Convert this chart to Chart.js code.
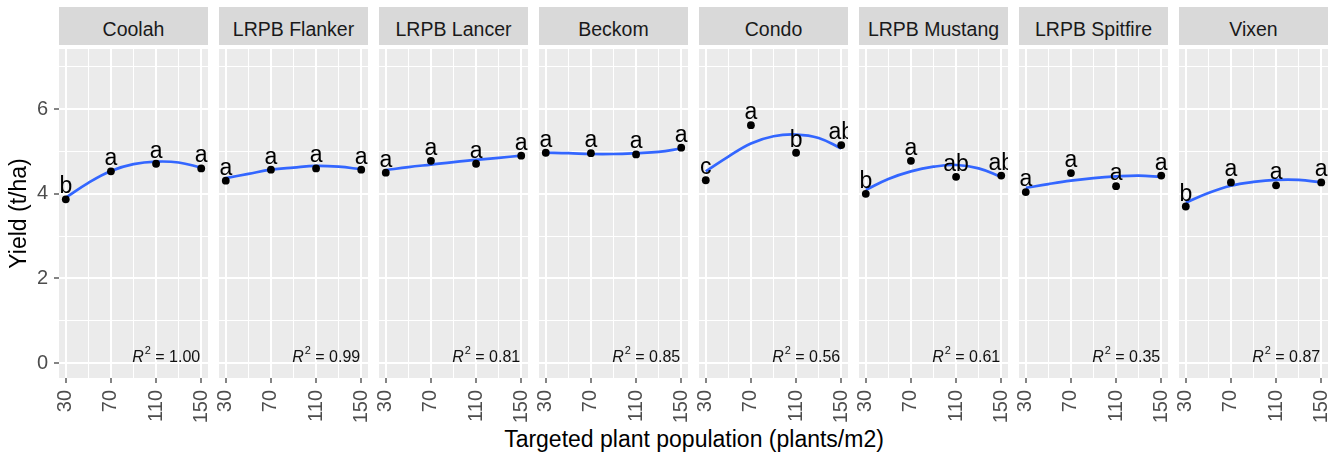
<!DOCTYPE html>
<html><head><meta charset="utf-8">
<script src="https://cdn.jsdelivr.net/npm/chart.js@4.4.1/dist/chart.umd.min.js"></script>
<style>
html,body{margin:0;padding:0;background:#fff;}
#wrap{position:relative;width:1343px;height:458px;overflow:hidden;font-family:'Liberation Sans',Arial,sans-serif;}
.strip{position:absolute;top:7px;height:38px;width:149px;background:#D9D9D9;color:#1A1A1A;font-size:19.5px;line-height:44px;text-align:center;white-space:nowrap;overflow:hidden;}
canvas{position:absolute;top:45px;}
#xtitle{position:absolute;left:59px;width:1270px;top:428px;line-height:23px;font-size:23px;text-align:center;color:#000;white-space:nowrap;}
</style></head><body><div id="wrap"><div id="xtitle">Targeted plant population (plants/m2)</div></div>
<script>
// ---- data ----
const cultivars = ['Coolah','LRPB Flanker','LRPB Lancer','Beckom','Condo','LRPB Mustang','LRPB Spitfire','Vixen'];
const populations = [30, 70, 110, 150];
const fitPopulations = [30, 50, 70, 90, 110, 130, 150];

const yieldCoolah   = [3.87, 4.53, 4.71, 4.60];
const yieldFlanker  = [4.31, 4.57, 4.60, 4.57];
const yieldLancer   = [4.50, 4.78, 4.71, 4.90];
const yieldBeckom   = [4.97, 4.96, 4.93, 5.09];
const yieldCondo    = [4.32, 5.62, 4.97, 5.15];
const yieldMustang  = [4.00, 4.78, 4.40, 4.43];
const yieldSpitfire = [4.04, 4.49, 4.18, 4.43];
const yieldVixen    = [3.70, 4.27, 4.20, 4.27];

const lettersCoolah   = ['b','a','a','a'];
const lettersFlanker  = ['a','a','a','a'];
const lettersLancer   = ['a','a','a','a'];
const lettersBeckom   = ['a','a','a','a'];
const lettersCondo    = ['c','a','b','ab'];
const lettersMustang  = ['b','a','ab','ab'];
const lettersSpitfire = ['a','a','a','a'];
const lettersVixen    = ['b','a','a','a'];

const fitCoolah   = [3.91, 4.26, 4.54, 4.70, 4.76, 4.74, 4.62];
const fitFlanker  = [4.37, 4.47, 4.57, 4.62, 4.66, 4.64, 4.58];
const fitLancer   = [4.56, 4.63, 4.69, 4.75, 4.80, 4.85, 4.90];
const fitBeckom   = [4.97, 4.96, 4.94, 4.94, 4.96, 4.99, 5.07];
const fitCondo    = [4.53, 4.88, 5.19, 5.36, 5.40, 5.32, 5.07];
const fitMustang  = [4.09, 4.35, 4.53, 4.64, 4.68, 4.60, 4.40];
const fitSpitfire = [4.14, 4.23, 4.31, 4.37, 4.41, 4.43, 4.40];
const fitVixen    = [3.79, 4.02, 4.19, 4.28, 4.33, 4.33, 4.27];

const rSquared = [1.00, 0.99, 0.81, 0.85, 0.56, 0.61, 0.35, 0.87];

const xTickLabels = [30, 70, 110, 150];
const xMinorTicks = [50, 90, 130];
const yTickLabels = [0, 2, 4, 6];
const yMinorTicks = [1, 3, 5, 7];

const yields  = [yieldCoolah, yieldFlanker, yieldLancer, yieldBeckom, yieldCondo, yieldMustang, yieldSpitfire, yieldVixen];
const letters = [lettersCoolah, lettersFlanker, lettersLancer, lettersBeckom, lettersCondo, lettersMustang, lettersSpitfire, lettersVixen];
const fits    = [fitCoolah, fitFlanker, fitLancer, fitBeckom, fitCondo, fitMustang, fitSpitfire, fitVixen];

// ---- layout ----
const FONT = "'Liberation Sans', Arial, sans-serif";
const PANEL_LEFT0 = 59, PANEL_STEP = 160, PANEL_W = 149, PANEL_H = 333, AXIS_H = 80, EXTRA = 10, YAXIS_W = 59;
const wrap = document.getElementById('wrap');

function makePlugins(i) {
  const bg = {
    id: 'panelBg' + i,
    beforeDraw(chart) {
      const {ctx, chartArea: a} = chart;
      ctx.save();
      ctx.fillStyle = '#EBEBEB';
      ctx.fillRect(a.left, a.top, a.right - a.left, a.bottom - a.top);
      ctx.restore();
    }
  };
  const lab = {
    id: 'panelLabels' + i,
    afterDatasetsDraw(chart) {
      const {ctx, chartArea: a, scales: {x, y}} = chart;
      ctx.save();
      ctx.beginPath();
      ctx.rect(a.left, a.top, a.right - a.left, a.bottom - a.top);
      ctx.clip();
      ctx.fillStyle = '#000';
      ctx.font = '23px ' + FONT;
      ctx.textAlign = 'center';
      ctx.textBaseline = 'alphabetic';
      populations.forEach((p, k) => {
        ctx.fillText(letters[i][k], x.getPixelForValue(p), y.getPixelForValue(yields[i][k]) - 6);
      });
      // R^2 label
      const right = x.getPixelForValue(150) - 1;
      const base = y.getPixelForValue(0) - 1;
      ctx.textAlign = 'left';
      ctx.fillStyle = '#111';
      const t2 = ' = ' + rSquared[i].toFixed(2);
      ctx.font = '16px ' + FONT; const w2 = ctx.measureText(t2).width;
      ctx.font = '11px ' + FONT; const wS = ctx.measureText('2').width;
      ctx.font = 'italic 16px ' + FONT; const wR = ctx.measureText('R').width;
      let sx = right - w2 - wS - wR - 1;
      ctx.fillText('R', sx, base); sx += wR + 1;
      ctx.font = '11px ' + FONT; ctx.fillText('2', sx, base - 8); sx += wS;
      ctx.font = '16px ' + FONT; ctx.fillText(t2, sx, base);
      ctx.restore();
    }
  };
  return [bg, lab];
}

cultivars.forEach((name, i) => {
  const L = PANEL_LEFT0 + PANEL_STEP * i;
  const strip = document.createElement('div');
  strip.className = 'strip';
  strip.style.left = L + 'px';
  strip.textContent = name;
  wrap.appendChild(strip);

  const yW = i === 0 ? YAXIS_W : EXTRA;
  const cw = yW + PANEL_W + EXTRA;
  const ch = PANEL_H + AXIS_H;
  const cv = document.createElement('canvas');
  cv.width = cw; cv.height = ch;
  cv.style.left = (L - yW) + 'px';
  cv.style.width = cw + 'px'; cv.style.height = ch + 'px';
  wrap.appendChild(cv);

  const xAll = [...xTickLabels, ...xMinorTicks].sort((a, b) => a - b);
  const yAll = [...yTickLabels, ...yMinorTicks].sort((a, b) => a - b);
  const isMajX = v => xTickLabels.includes(v);
  const isMajY = v => yTickLabels.includes(v);

  new Chart(cv, {
    type: 'scatter',
    data: {
      datasets: [
        {
          type: 'line',
          data: fitPopulations.map((p, k) => ({x: p, y: fits[i][k]})),
          borderColor: '#3366FF', borderWidth: 2.7, pointRadius: 0,
          tension: 0.4, fill: false, order: 2
        },
        {
          type: 'scatter',
          data: populations.map((p, k) => ({x: p, y: yields[i][k]})),
          backgroundColor: '#000', borderColor: '#000', borderWidth: 0,
          pointRadius: 3.9, order: 1
        }
      ]
    },
    options: {
      responsive: false, animation: false, devicePixelRatio: 1,
      layout: {padding: {left: 0, right: EXTRA, top: 0, bottom: 0}},
      plugins: {legend: {display: false}, tooltip: {enabled: false}},
      scales: {
        x: {
          type: 'linear', position: 'bottom', min: 24, max: 156,
          afterBuildTicks: s => { s.ticks = xAll.map(v => ({value: v})); },
          afterFit: s => { s.height = AXIS_H; s.paddingLeft = 0; s.paddingRight = 0; },
          grid: {
            color: '#FFFFFF',
            lineWidth: c => (c.tick && isMajX(c.tick.value)) ? 2 : 1,
            drawTicks: true, tickLength: 5, tickWidth: 1.2,
            tickColor: c => (c.tick && isMajX(c.tick.value)) ? '#333333' : 'rgba(0,0,0,0)'
          },
          border: {display: false},
          ticks: {
            autoSkip: false, maxRotation: 90, minRotation: 90, padding: 7,
            color: '#4D4D4D', font: {family: FONT, size: 20},
            callback: v => isMajX(v) ? String(v) : ''
          }
        },
        y: {
          type: 'linear', position: 'left', min: -0.35, max: 7.42,
          afterBuildTicks: s => { s.ticks = yAll.map(v => ({value: v})); },
          afterFit: s => { s.width = yW; s.paddingTop = 0; s.paddingBottom = 0; },
          grid: {
            color: '#FFFFFF',
            lineWidth: c => (c.tick && isMajY(c.tick.value)) ? 2 : 1,
            drawTicks: i === 0, tickLength: 5, tickWidth: 1.2,
            tickColor: c => (c.tick && isMajY(c.tick.value)) ? '#333333' : 'rgba(0,0,0,0)'
          },
          border: {display: false},
          ticks: {
            display: i === 0, padding: 6,
            color: '#4D4D4D', font: {family: FONT, size: 20},
            callback: v => isMajY(v) ? String(v) : ''
          },
          title: {
            display: i === 0, text: 'Yield (t/ha)', color: '#000',
            font: {family: FONT, size: 23}, padding: {top: 6, bottom: 0}
          }
        }
      }
    },
    plugins: makePlugins(i)
  });
});
</script>
</body></html>
